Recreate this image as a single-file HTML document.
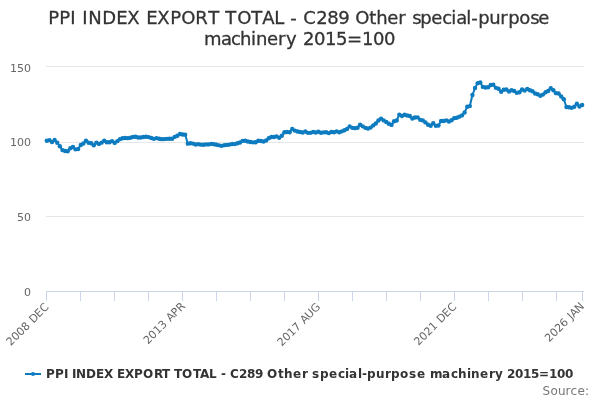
<!DOCTYPE html>
<html><head><meta charset="utf-8"><title>PPI INDEX EXPORT TOTAL - C289 Other special-purpose machinery 2015=100</title>
<style>
html,body{margin:0;padding:0;background:#fff;}
body{width:600px;height:400px;overflow:hidden;}
svg{display:block;font-family:"DejaVu Sans","Liberation Sans",sans-serif;}
text{white-space:pre;}
</style></head><body>
<svg width="600" height="400" viewBox="0 0 600 400">
<rect x="0" y="0" width="600" height="400" fill="#ffffff"/>
<g stroke="#e6e6e6" stroke-width="1" fill="none"><path d="M 46 66.5 L 584 66.5"/><path d="M 46 142.5 L 584 142.5"/><path d="M 46 216.5 L 584 216.5"/><path d="M 46 291.5 L 584 291.5"/></g>
<g stroke="#ccd6eb" stroke-width="1" fill="none"><path d="M 46.5 291 L 46.5 301"/><path d="M 80.5 291 L 80.5 301"/><path d="M 114.5 291 L 114.5 301"/><path d="M 148.5 291 L 148.5 301"/><path d="M 182.5 291 L 182.5 301"/><path d="M 216.5 291 L 216.5 301"/><path d="M 250.5 291 L 250.5 301"/><path d="M 284.5 291 L 284.5 301"/><path d="M 318.5 291 L 318.5 301"/><path d="M 352.5 291 L 352.5 301"/><path d="M 386.5 291 L 386.5 301"/><path d="M 420.5 291 L 420.5 301"/><path d="M 454.5 291 L 454.5 301"/><path d="M 488.5 291 L 488.5 301"/><path d="M 522.5 291 L 522.5 301"/><path d="M 556.5 291 L 556.5 301"/><path d="M 582.5 291 L 582.5 301"/><path d="M 46 291.5 L 584 291.5"/></g>
<g fill="none" stroke="#0d7bbf" stroke-width="2" stroke-linejoin="round" stroke-linecap="round"><path d="M 46.8 140.81 L 49.41 140.12 L 52.02 142 L 54.63 139.9 L 57.24 142.74 L 59.86 146.3 L 62.47 150.08 L 65.08 151.01 L 67.69 151.24 L 70.3 148.32 L 72.91 147.04 L 75.52 149.33 L 78.13 148.94 L 80.75 144.93 L 83.36 143.47 L 85.97 140.63 L 88.58 142.76 L 91.19 143.26 L 93.8 145.34 L 96.41 142.6 L 99.02 143.88 L 101.64 142.63 L 104.25 140.74 L 106.86 142.23 L 109.47 142.22 L 112.08 141.12 L 114.69 142.89 L 117.3 141.17 L 119.91 139.17 L 122.53 138.31 L 125.14 138.02 L 127.75 138.17 L 130.36 137.71 L 132.97 136.96 L 135.58 136.75 L 138.19 137.43 L 140.8 137.47 L 143.42 136.97 L 146.03 136.77 L 148.64 137.09 L 151.25 137.98 L 153.86 138.86 L 156.47 138.11 L 159.08 138.81 L 161.69 139.16 L 164.3 139.08 L 166.92 138.83 L 169.53 138.71 L 172.14 138.72 L 174.75 136.92 L 177.36 135.78 L 179.97 133.94 L 182.58 134.55 L 185.19 134.73 L 187.81 143.63 L 190.42 143.26 L 193.03 143.62 L 195.64 144.53 L 198.25 144.16 L 200.86 144.66 L 203.47 144.73 L 206.08 144.41 L 208.7 144.38 L 211.31 143.89 L 213.92 144.18 L 216.53 144.78 L 219.14 145.33 L 221.75 145.85 L 224.36 145.14 L 226.97 144.92 L 229.59 144.58 L 232.2 143.95 L 234.81 144.1 L 237.42 143.25 L 240.03 142.53 L 242.64 140.86 L 245.25 140.69 L 247.86 141.53 L 250.48 142 L 253.09 142.36 L 255.7 142.3 L 258.31 140.74 L 260.92 141.07 L 263.53 141.57 L 266.14 140.56 L 268.75 138.21 L 271.36 137.01 L 273.98 136.96 L 276.59 136.4 L 279.2 137.75 L 281.81 135.78 L 284.42 132.28 L 287.03 132.01 L 289.64 132.2 L 292.25 129.06 L 294.87 130.62 L 297.48 131.5 L 300.09 132.02 L 302.7 132.5 L 305.31 131.52 L 307.92 132.85 L 310.53 132.85 L 313.14 132.01 L 315.76 132.54 L 318.37 131.79 L 320.98 132.74 L 323.59 132.36 L 326.2 132.3 L 328.81 133.11 L 331.42 132 L 334.03 132.18 L 336.65 131.4 L 339.26 132.25 L 341.87 131.35 L 344.48 130.3 L 347.09 128.9 L 349.7 126.38 L 352.31 127.84 L 354.92 128.17 L 357.54 127.78 L 360.15 124.58 L 362.76 126.33 L 365.37 127.86 L 367.98 128.55 L 370.59 127.58 L 373.2 125.41 L 375.81 123.56 L 378.42 120.43 L 381.04 118.66 L 383.65 120.4 L 386.26 121.98 L 388.87 123.73 L 391.48 124.89 L 394.09 121.29 L 396.7 120.53 L 399.31 114.64 L 401.93 116.05 L 404.54 114.7 L 407.15 115.5 L 409.76 116.03 L 412.37 118.52 L 414.98 117.57 L 417.59 117.33 L 420.2 119.86 L 422.82 120.42 L 425.43 122.41 L 428.04 124.75 L 430.65 125.82 L 433.26 123.31 L 435.87 125.83 L 438.48 125.54 L 441.09 120.99 L 443.71 121.05 L 446.32 120.33 L 448.93 121.47 L 451.54 120.27 L 454.15 118.14 L 456.76 117.82 L 459.37 116.66 L 461.98 115.42 L 464.6 112.44 L 467.21 106.75 L 469.82 106.08 L 472.43 95 L 475.04 88.07 L 477.65 83.13 L 480.26 82.56 L 482.87 86.9 L 485.48 87.51 L 488.1 87.29 L 490.71 85.01 L 493.32 84.7 L 495.93 87.85 L 498.54 88.72 L 501.15 91.81 L 503.76 89.78 L 506.37 89.53 L 508.99 91.52 L 511.6 90.19 L 514.21 90.95 L 516.82 92.87 L 519.43 92.22 L 522.04 89.49 L 524.65 90.58 L 527.26 88.97 L 529.88 90.32 L 532.49 91.27 L 535.1 93.45 L 537.71 94.18 L 540.32 95.79 L 542.93 94.6 L 545.54 92.2 L 548.15 90.95 L 550.77 88.24 L 553.38 90.32 L 555.99 93.13 L 558.6 93.49 L 561.21 96.47 L 563.82 99.22 L 566.43 106.99 L 569.04 107.29 L 571.66 107.85 L 574.27 106.68 L 576.88 103.78 L 579.49 106.49 L 582.1 105.01"/></g>
<g fill="#0d7bbf" stroke="none"><circle cx="46.8" cy="140.81" r="2.2"/><circle cx="49.41" cy="140.12" r="2.2"/><circle cx="52.02" cy="142" r="2.2"/><circle cx="54.63" cy="139.9" r="2.2"/><circle cx="57.24" cy="142.74" r="2.2"/><circle cx="59.86" cy="146.3" r="2.2"/><circle cx="62.47" cy="150.08" r="2.2"/><circle cx="65.08" cy="151.01" r="2.2"/><circle cx="67.69" cy="151.24" r="2.2"/><circle cx="70.3" cy="148.32" r="2.2"/><circle cx="72.91" cy="147.04" r="2.2"/><circle cx="75.52" cy="149.33" r="2.2"/><circle cx="78.13" cy="148.94" r="2.2"/><circle cx="80.75" cy="144.93" r="2.2"/><circle cx="83.36" cy="143.47" r="2.2"/><circle cx="85.97" cy="140.63" r="2.2"/><circle cx="88.58" cy="142.76" r="2.2"/><circle cx="91.19" cy="143.26" r="2.2"/><circle cx="93.8" cy="145.34" r="2.2"/><circle cx="96.41" cy="142.6" r="2.2"/><circle cx="99.02" cy="143.88" r="2.2"/><circle cx="101.64" cy="142.63" r="2.2"/><circle cx="104.25" cy="140.74" r="2.2"/><circle cx="106.86" cy="142.23" r="2.2"/><circle cx="109.47" cy="142.22" r="2.2"/><circle cx="112.08" cy="141.12" r="2.2"/><circle cx="114.69" cy="142.89" r="2.2"/><circle cx="117.3" cy="141.17" r="2.2"/><circle cx="119.91" cy="139.17" r="2.2"/><circle cx="122.53" cy="138.31" r="2.2"/><circle cx="125.14" cy="138.02" r="2.2"/><circle cx="127.75" cy="138.17" r="2.2"/><circle cx="130.36" cy="137.71" r="2.2"/><circle cx="132.97" cy="136.96" r="2.2"/><circle cx="135.58" cy="136.75" r="2.2"/><circle cx="138.19" cy="137.43" r="2.2"/><circle cx="140.8" cy="137.47" r="2.2"/><circle cx="143.42" cy="136.97" r="2.2"/><circle cx="146.03" cy="136.77" r="2.2"/><circle cx="148.64" cy="137.09" r="2.2"/><circle cx="151.25" cy="137.98" r="2.2"/><circle cx="153.86" cy="138.86" r="2.2"/><circle cx="156.47" cy="138.11" r="2.2"/><circle cx="159.08" cy="138.81" r="2.2"/><circle cx="161.69" cy="139.16" r="2.2"/><circle cx="164.3" cy="139.08" r="2.2"/><circle cx="166.92" cy="138.83" r="2.2"/><circle cx="169.53" cy="138.71" r="2.2"/><circle cx="172.14" cy="138.72" r="2.2"/><circle cx="174.75" cy="136.92" r="2.2"/><circle cx="177.36" cy="135.78" r="2.2"/><circle cx="179.97" cy="133.94" r="2.2"/><circle cx="182.58" cy="134.55" r="2.2"/><circle cx="185.19" cy="134.73" r="2.2"/><circle cx="187.81" cy="143.63" r="2.2"/><circle cx="190.42" cy="143.26" r="2.2"/><circle cx="193.03" cy="143.62" r="2.2"/><circle cx="195.64" cy="144.53" r="2.2"/><circle cx="198.25" cy="144.16" r="2.2"/><circle cx="200.86" cy="144.66" r="2.2"/><circle cx="203.47" cy="144.73" r="2.2"/><circle cx="206.08" cy="144.41" r="2.2"/><circle cx="208.7" cy="144.38" r="2.2"/><circle cx="211.31" cy="143.89" r="2.2"/><circle cx="213.92" cy="144.18" r="2.2"/><circle cx="216.53" cy="144.78" r="2.2"/><circle cx="219.14" cy="145.33" r="2.2"/><circle cx="221.75" cy="145.85" r="2.2"/><circle cx="224.36" cy="145.14" r="2.2"/><circle cx="226.97" cy="144.92" r="2.2"/><circle cx="229.59" cy="144.58" r="2.2"/><circle cx="232.2" cy="143.95" r="2.2"/><circle cx="234.81" cy="144.1" r="2.2"/><circle cx="237.42" cy="143.25" r="2.2"/><circle cx="240.03" cy="142.53" r="2.2"/><circle cx="242.64" cy="140.86" r="2.2"/><circle cx="245.25" cy="140.69" r="2.2"/><circle cx="247.86" cy="141.53" r="2.2"/><circle cx="250.48" cy="142" r="2.2"/><circle cx="253.09" cy="142.36" r="2.2"/><circle cx="255.7" cy="142.3" r="2.2"/><circle cx="258.31" cy="140.74" r="2.2"/><circle cx="260.92" cy="141.07" r="2.2"/><circle cx="263.53" cy="141.57" r="2.2"/><circle cx="266.14" cy="140.56" r="2.2"/><circle cx="268.75" cy="138.21" r="2.2"/><circle cx="271.36" cy="137.01" r="2.2"/><circle cx="273.98" cy="136.96" r="2.2"/><circle cx="276.59" cy="136.4" r="2.2"/><circle cx="279.2" cy="137.75" r="2.2"/><circle cx="281.81" cy="135.78" r="2.2"/><circle cx="284.42" cy="132.28" r="2.2"/><circle cx="287.03" cy="132.01" r="2.2"/><circle cx="289.64" cy="132.2" r="2.2"/><circle cx="292.25" cy="129.06" r="2.2"/><circle cx="294.87" cy="130.62" r="2.2"/><circle cx="297.48" cy="131.5" r="2.2"/><circle cx="300.09" cy="132.02" r="2.2"/><circle cx="302.7" cy="132.5" r="2.2"/><circle cx="305.31" cy="131.52" r="2.2"/><circle cx="307.92" cy="132.85" r="2.2"/><circle cx="310.53" cy="132.85" r="2.2"/><circle cx="313.14" cy="132.01" r="2.2"/><circle cx="315.76" cy="132.54" r="2.2"/><circle cx="318.37" cy="131.79" r="2.2"/><circle cx="320.98" cy="132.74" r="2.2"/><circle cx="323.59" cy="132.36" r="2.2"/><circle cx="326.2" cy="132.3" r="2.2"/><circle cx="328.81" cy="133.11" r="2.2"/><circle cx="331.42" cy="132" r="2.2"/><circle cx="334.03" cy="132.18" r="2.2"/><circle cx="336.65" cy="131.4" r="2.2"/><circle cx="339.26" cy="132.25" r="2.2"/><circle cx="341.87" cy="131.35" r="2.2"/><circle cx="344.48" cy="130.3" r="2.2"/><circle cx="347.09" cy="128.9" r="2.2"/><circle cx="349.7" cy="126.38" r="2.2"/><circle cx="352.31" cy="127.84" r="2.2"/><circle cx="354.92" cy="128.17" r="2.2"/><circle cx="357.54" cy="127.78" r="2.2"/><circle cx="360.15" cy="124.58" r="2.2"/><circle cx="362.76" cy="126.33" r="2.2"/><circle cx="365.37" cy="127.86" r="2.2"/><circle cx="367.98" cy="128.55" r="2.2"/><circle cx="370.59" cy="127.58" r="2.2"/><circle cx="373.2" cy="125.41" r="2.2"/><circle cx="375.81" cy="123.56" r="2.2"/><circle cx="378.42" cy="120.43" r="2.2"/><circle cx="381.04" cy="118.66" r="2.2"/><circle cx="383.65" cy="120.4" r="2.2"/><circle cx="386.26" cy="121.98" r="2.2"/><circle cx="388.87" cy="123.73" r="2.2"/><circle cx="391.48" cy="124.89" r="2.2"/><circle cx="394.09" cy="121.29" r="2.2"/><circle cx="396.7" cy="120.53" r="2.2"/><circle cx="399.31" cy="114.64" r="2.2"/><circle cx="401.93" cy="116.05" r="2.2"/><circle cx="404.54" cy="114.7" r="2.2"/><circle cx="407.15" cy="115.5" r="2.2"/><circle cx="409.76" cy="116.03" r="2.2"/><circle cx="412.37" cy="118.52" r="2.2"/><circle cx="414.98" cy="117.57" r="2.2"/><circle cx="417.59" cy="117.33" r="2.2"/><circle cx="420.2" cy="119.86" r="2.2"/><circle cx="422.82" cy="120.42" r="2.2"/><circle cx="425.43" cy="122.41" r="2.2"/><circle cx="428.04" cy="124.75" r="2.2"/><circle cx="430.65" cy="125.82" r="2.2"/><circle cx="433.26" cy="123.31" r="2.2"/><circle cx="435.87" cy="125.83" r="2.2"/><circle cx="438.48" cy="125.54" r="2.2"/><circle cx="441.09" cy="120.99" r="2.2"/><circle cx="443.71" cy="121.05" r="2.2"/><circle cx="446.32" cy="120.33" r="2.2"/><circle cx="448.93" cy="121.47" r="2.2"/><circle cx="451.54" cy="120.27" r="2.2"/><circle cx="454.15" cy="118.14" r="2.2"/><circle cx="456.76" cy="117.82" r="2.2"/><circle cx="459.37" cy="116.66" r="2.2"/><circle cx="461.98" cy="115.42" r="2.2"/><circle cx="464.6" cy="112.44" r="2.2"/><circle cx="467.21" cy="106.75" r="2.2"/><circle cx="469.82" cy="106.08" r="2.2"/><circle cx="472.43" cy="95" r="2.2"/><circle cx="475.04" cy="88.07" r="2.2"/><circle cx="477.65" cy="83.13" r="2.2"/><circle cx="480.26" cy="82.56" r="2.2"/><circle cx="482.87" cy="86.9" r="2.2"/><circle cx="485.48" cy="87.51" r="2.2"/><circle cx="488.1" cy="87.29" r="2.2"/><circle cx="490.71" cy="85.01" r="2.2"/><circle cx="493.32" cy="84.7" r="2.2"/><circle cx="495.93" cy="87.85" r="2.2"/><circle cx="498.54" cy="88.72" r="2.2"/><circle cx="501.15" cy="91.81" r="2.2"/><circle cx="503.76" cy="89.78" r="2.2"/><circle cx="506.37" cy="89.53" r="2.2"/><circle cx="508.99" cy="91.52" r="2.2"/><circle cx="511.6" cy="90.19" r="2.2"/><circle cx="514.21" cy="90.95" r="2.2"/><circle cx="516.82" cy="92.87" r="2.2"/><circle cx="519.43" cy="92.22" r="2.2"/><circle cx="522.04" cy="89.49" r="2.2"/><circle cx="524.65" cy="90.58" r="2.2"/><circle cx="527.26" cy="88.97" r="2.2"/><circle cx="529.88" cy="90.32" r="2.2"/><circle cx="532.49" cy="91.27" r="2.2"/><circle cx="535.1" cy="93.45" r="2.2"/><circle cx="537.71" cy="94.18" r="2.2"/><circle cx="540.32" cy="95.79" r="2.2"/><circle cx="542.93" cy="94.6" r="2.2"/><circle cx="545.54" cy="92.2" r="2.2"/><circle cx="548.15" cy="90.95" r="2.2"/><circle cx="550.77" cy="88.24" r="2.2"/><circle cx="553.38" cy="90.32" r="2.2"/><circle cx="555.99" cy="93.13" r="2.2"/><circle cx="558.6" cy="93.49" r="2.2"/><circle cx="561.21" cy="96.47" r="2.2"/><circle cx="563.82" cy="99.22" r="2.2"/><circle cx="566.43" cy="106.99" r="2.2"/><circle cx="569.04" cy="107.29" r="2.2"/><circle cx="571.66" cy="107.85" r="2.2"/><circle cx="574.27" cy="106.68" r="2.2"/><circle cx="576.88" cy="103.78" r="2.2"/><circle cx="579.49" cy="106.49" r="2.2"/><circle cx="582.1" cy="105.01" r="2.2"/></g>
<text x="48.3 59.3 70.3 76.3 82.3 88.3 102.3 116.3 127.3 140.3 146.3 157.3 170.3 181.3 195.3 208.3 220.3 225.3 237.3 251.3 262.3 274.3 284.3 290.3 297.3 303.3 316.3 327.3 338.3 349.3 355.3 369.3 376.3 387.3 398.3 406.3 412.3 420.3 431.3 442.3 451.3 456.3 466.3 471.3 478.3 489.3 500.3 508.3 519.3 530.3 538.3" y="24" fill="#333333" font-size="18px" stroke="#333333" stroke-width="0.3">PPI INDEX EXPORT TOTAL - C289 Other special-purpose</text><text x="204 221 231 240 251 256 267 278 286 297 303 314 325 336 347 362 373 384" y="45.3" fill="#333333" font-size="18px" stroke="#333333" stroke-width="0.3">machinery 2015=100</text>
<g><path d="M 25 374 L 41 374" stroke="#0d7bbf" stroke-width="2" fill="none"/><circle cx="33" cy="374" r="2" fill="#0d7bbf"/>
<text x="46 55 64 68 72 76 86 96 104 113 117 125 134 143 154 162 170 174 182 193 200 209 217 221 226 230 239 247 255 263 267 278 284 293 302 308 312 320 329 338 345 349 358 362 367 376 385 391 400 409 417 426 430 442 451 458 467 471 480 489 495 503 507 515 523 531 539 549 557 565" y="378" fill="#333333" font-size="12px" font-weight="bold">PPI INDEX EXPORT TOTAL - C289 Other special-purpose machinery 2015=100</text></g>
<g><text x="-5.3 1.7 8.7 15.7 22.7 26.7 34.7 41.7" y="307.4" fill="#666666" font-size="11px" transform="rotate(-45 49.7 307.4)">2008 DEC</text><text x="132.4 139.4 146.4 153.4 160.4 164.4 171.4 178.4" y="307.2" fill="#666666" font-size="11px" transform="rotate(-45 185.4 307.2)">2013 APR</text><text x="265.4 272.4 279.4 286.4 293.4 297.4 304.4 312.4" y="307.2" fill="#666666" font-size="11px" transform="rotate(-45 321.4 307.2)">2017 AUG</text><text x="402.4 409.4 416.4 423.4 430.4 434.4 442.4 449.4" y="307.2" fill="#666666" font-size="11px" transform="rotate(-45 457.4 307.2)">2021 DEC</text><text x="534.6 541.6 548.6 555.6 562.6 566.6 569.6 576.6" y="307.2" fill="#666666" font-size="11px" transform="rotate(-45 584.6 307.2)">2026 JAN</text></g>
<g><text x="10 17 24" y="72" fill="#666666" font-size="11px">150</text><text x="10 17 24" y="146" fill="#666666" font-size="11px">100</text><text x="17 24" y="221" fill="#666666" font-size="11px">50</text><text x="24" y="296" fill="#666666" font-size="11px">0</text></g>
<text x="542.5 550.5 558 565.5 570.5 577.5 585.1" y="395" fill="#777777" font-size="12px">Source:</text>
</svg>
</body></html>
